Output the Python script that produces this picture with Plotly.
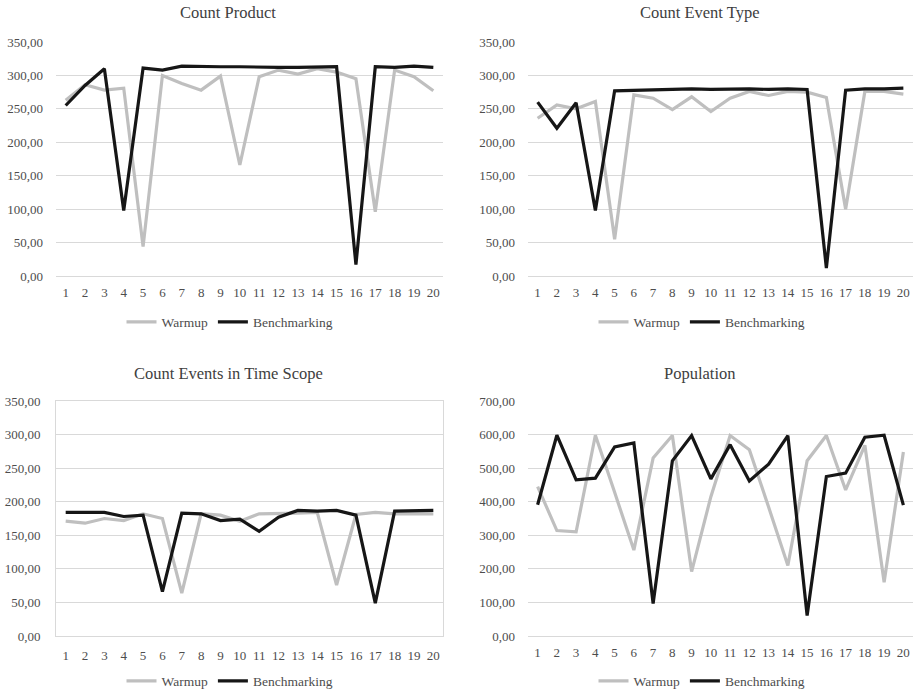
import plotly.graph_objects as go

runs = list(range(1, 21))

product_warmup = [263, 286, 278, 281, 44, 300, 288, 278, 299, 166, 298, 308, 302, 310, 305, 295, 96, 308, 298, 277]
product_bench = [255, 285, 310, 98, 311, 308, 314, 313, 313, 313, 312, 312, 312, 313, 313, 17, 313, 312, 314, 312]

evtype_warmup = [236, 256, 250, 261, 55, 271, 266, 249, 268, 246, 266, 276, 270, 276, 275, 267, 100, 276, 276, 272]
evtype_bench = [260, 221, 259, 98, 277, 278, 279, 279, 280, 279, 280, 280, 279, 280, 279, 12, 278, 280, 280, 281]

scope_warmup = [171, 168, 175, 172, 182, 175, 64, 182, 180, 171, 182, 182, 183, 184, 76, 181, 184, 182, 182, 182]
scope_bench = [184, 184, 184, 178, 180, 66, 183, 182, 172, 174, 156, 177, 187, 186, 187, 180, 49, 186, 186, 187]

pop_warmup = [445, 314, 310, 598, 428, 256, 530, 597, 192, 415, 597, 555, 384, 210, 522, 597, 435, 568, 160, 548]
pop_bench = [391, 598, 465, 470, 563, 575, 97, 522, 597, 468, 570, 462, 512, 597, 61, 475, 485, 592, 598, 390]

titles = ["Count Product", "Count Event Type", "Count Events in Time Scope", "Population"]
series = [(product_warmup, product_bench), (evtype_warmup, evtype_bench),
          (scope_warmup, scope_bench), (pop_warmup, pop_bench)]
ymax = [350, 350, 350, 700]
ydtick = [50, 50, 50, 100]

W, H = 917, 694
# plot areas in pixels: (x0, x1, ytop, ybottom)
areas = [(56, 443, 42, 276), (528, 913, 42, 276), (56, 443, 401, 636), (528, 913, 401, 636)]
title_pos = [(228, 13), (700, 13), (228, 373), (700, 373)]
legend_pos = [(230, 322), (702, 322), (230, 681), (702, 681)]

FONT = "Liberation Serif"
GRAY = "#bfbfbf"
BLACK = "#161616"
GRID = "#d9d9d9"
TXT = "#4d4d4d"

fig = go.Figure()
layout = dict(
    width=W, height=H, margin=dict(l=0, r=0, t=0, b=0, autoexpand=False),
    paper_bgcolor="white", plot_bgcolor="white",
    separators=",.",
    font=dict(family=FONT, size=13, color=TXT),
    annotations=[],
)

for i in range(4):
    sfx = "" if i == 0 else str(i + 1)
    xa, ya = "x" + sfx, "y" + sfx
    leg = "legend" + sfx
    w, b = series[i]
    fig.add_trace(go.Scatter(x=runs, y=w, mode="lines", name="Warmup",
                             line=dict(color=GRAY, width=3.2), xaxis=xa, yaxis=ya, legend=leg))
    fig.add_trace(go.Scatter(x=runs, y=b, mode="lines", name="Benchmarking",
                             line=dict(color=BLACK, width=3.2), xaxis=xa, yaxis=ya, legend=leg))
    x0, x1, yt, yb = areas[i]
    boxed = (i == 2)
    layout["xaxis" + sfx] = dict(
        domain=[x0 / W, x1 / W], anchor=ya, range=[0.5, 20.5],
        tickmode="array", tickvals=runs, ticktext=[str(r) for r in runs],
        showgrid=False, zeroline=False, showline=boxed, mirror=boxed, linecolor=GRID,
        ticks="", ticklabelstandoff=7, tickfont=dict(family=FONT, size=13, color=TXT),
        fixedrange=True,
    )
    layout["yaxis" + sfx] = dict(
        domain=[1 - yb / H, 1 - yt / H], anchor=xa, range=[0, ymax[i]],
        dtick=ydtick[i], tick0=0, tickformat=".2f",
        showgrid=True, gridcolor=GRID, gridwidth=1,
        zeroline=True, zerolinecolor=GRID, zerolinewidth=1,
        showline=boxed, mirror=boxed, linecolor=GRID,
        ticks="", ticklabelstandoff=12, tickfont=dict(family=FONT, size=13, color=TXT),
        fixedrange=True,
    )
    lx, ly = legend_pos[i]
    layout[leg] = dict(
        orientation="h", x=lx / W, y=1 - ly / H, xanchor="center", yanchor="middle",
        font=dict(family=FONT, size=13.5, color=TXT), bgcolor="rgba(0,0,0,0)",
        itemwidth=30, tracegroupgap=0,
    )
    tx, ty = title_pos[i]
    layout["annotations"].append(dict(
        text=titles[i], x=tx / W, y=1 - ty / H, xref="paper", yref="paper",
        xanchor="center", yanchor="middle", showarrow=False,
        font=dict(family=FONT, size=16.5, color="#404040"),
    ))

fig.update_layout(**layout)
fig.write_html("out.html", config={"displayModeBar": False},
               post_script="document.body.style.margin='0px';document.body.style.overflow='hidden';")
